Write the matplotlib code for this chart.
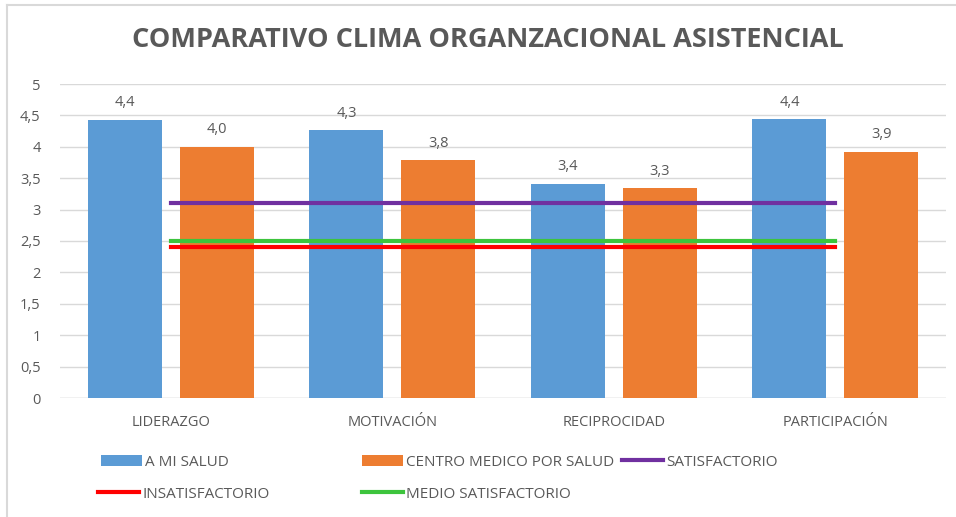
import matplotlib.pyplot as plt
import numpy as np

# Datos
categorias = ['LIDERAZGO', 'MOTIVACIÓN', 'RECIPROCIDAD', 'PARTICIPACIÓN']
a_mi_salud = [4.43, 4.26, 3.41, 4.44]
centro_medico = [4.0, 3.79, 3.34, 3.92]
satisfactorio = [3.1, 3.1, 3.1, 3.1]
medio_satisfactorio = [2.5, 2.5, 2.5, 2.5]
insatisfactorio = [2.4, 2.4, 2.4, 2.4]

gris = '#595959'
azul = '#5b9bd5'
naranja = '#ed7d31'

plt.rcParams['font.family'] = ['Open Sans', 'DejaVu Sans']

fig = plt.figure(figsize=(9.56, 5.17), dpi=100)
ax = fig.add_axes([60 / 956, 1 - 398 / 517, 886 / 956, 314 / 517])

x = np.arange(len(categorias))
ancho = 0.334
desp = 0.207

b1 = ax.bar(x - desp, a_mi_salud, ancho, color=azul, label='A MI SALUD', zorder=2)
b2 = ax.bar(x + desp, centro_medico, ancho, color=naranja, label='CENTRO MEDICO POR SALUD', zorder=2)

l_sat, = ax.plot(x, satisfactorio, color='#7030a0', lw=3, label='SATISFACTORIO', zorder=3)
l_ins, = ax.plot(x, insatisfactorio, color='#ff0000', lw=3, label='INSATISFACTORIO', zorder=3)
l_med, = ax.plot(x, medio_satisfactorio, color='#3dc43d', lw=3, label='MEDIO SATISFACTORIO', zorder=3)

# Etiquetas de valores con coma decimal
for barras, vals in [(b1, a_mi_salud), (b2, centro_medico)]:
    for rect, v in zip(barras, vals):
        ax.text(rect.get_x() + rect.get_width() / 2, v + 0.15, f'{v:.1f}'.replace('.', ','),
                ha='center', va='bottom', fontsize=10.5, color=gris)

ax.set_xlim(-0.5, 3.5)
ax.set_ylim(0, 5)
yt = np.arange(0, 5.01, 0.5)
ax.set_yticks(yt)
ax.set_yticklabels([f'{t:g}'.replace('.', ',') for t in yt])
ax.set_xticks(x)
ax.set_xticklabels(categorias)
ax.tick_params(length=0, colors=gris, labelsize=10.5)
ax.tick_params(axis='y', pad=14)
ax.tick_params(axis='x', pad=12)
ax.grid(axis='y', color='#d9d9d9', lw=1, zorder=0)
for s in ax.spines.values():
    s.set_visible(False)
ax.axhline(0, color='#d9d9d9', lw=1, zorder=1)

fig.text(488 / 956, 1 - 40 / 517, 'COMPARATIVO CLIMA ORGANZACIONAL ASISTENCIAL',
         ha='center', va='center', fontsize=19.5, fontweight='bold', color=gris)

# Leyenda, cada entrada en su sitio
entradas = [(b1, 101, 462), (b2, 362, 462), (l_sat, 622, 462),
            (l_ins, 98, 494), (l_med, 362, 494)]
for h, px, py in entradas:
    lg = fig.legend(handles=[h], loc='center left', bbox_to_anchor=(px / 956, 1 - py / 517),
                    frameon=False, fontsize=11, handlelength=2.7, handletextpad=0.2,
                    borderpad=0, borderaxespad=0)
    for t in lg.get_texts():
        t.set_color(gris)

# marco del gráfico
fig.add_artist(plt.Line2D([7 / 956, 7 / 956], [0, 1 - 5 / 517], color='#d9d9d9', lw=1.5))
fig.add_artist(plt.Line2D([7 / 956, 1], [1 - 5 / 517, 1 - 5 / 517], color='#d9d9d9', lw=1.5))

fig.savefig('out.png', dpi=100)
